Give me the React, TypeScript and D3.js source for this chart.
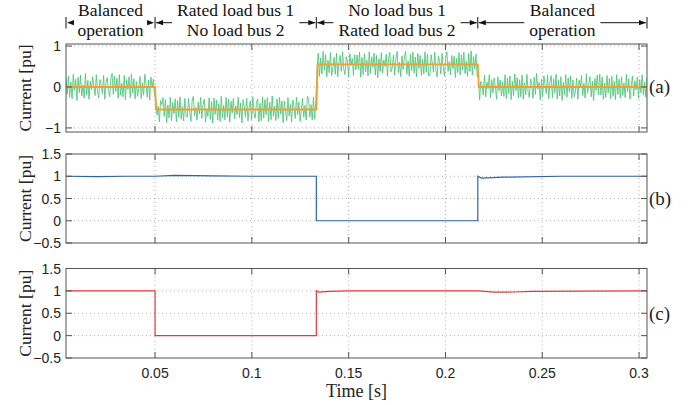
import React, { useRef, useEffect } from 'react';
import * as d3 from 'd3';

// time axis ticks and the operating stage boundaries [s]
const xTicks = [0.05, 0.1, 0.15, 0.2, 0.25, 0.3];
const stageEdges = [0.004, 0.05, 0.1333, 0.2167, 0.3041];
const stageLabels = [
  ['Balanced', 'operation'],
  ['Rated load bus 1', 'No load bus 2'],
  ['No load bus 1', 'Rated load bus 2'],
  ['Balanced', 'operation'],
];

// (a) reference current (orange)
const refT = [0.004, 0.05, 0.0505, 0.1333, 0.134, 0.2167, 0.2172, 0.3041];
const refV = [0, 0, -0.55, -0.55, 0.55, 0.55, 0, 0];

const stageLevels = [0, -0.55, 0.55, 0];
const ripple = [
  0.22, -0.18, 0.27, -0.25, 0.12, -0.29, 0.31, -0.08, 0.19, -0.33, 0.24, -0.14, 0.29, -0.22, 0.05, -0.27, 0.33, -0.19, 0.16, -0.3,
  0.14, -0.06, 0.25, 0.02, -0.21, 0.3, -0.12, -0.27, 0.18, 0.04, -0.16, 0.28, -0.3, 0.11, 0.23, -0.09, -0.24, 0.2, 0.33, -0.18,
  0.26, -0.11, 0.21, -0.28, 0.3, -0.2, 0.09, -0.24, 0.28, -0.31, 0.18, -0.06, 0.25, -0.26, 0.32, -0.15, 0.2, -0.29, 0.13, -0.23,
  -0.03, 0.26, -0.28, 0.1, -0.2, 0.31, 0.06, -0.25, 0.17, -0.32, 0.24, -0.01, 0.19, -0.23, 0.29, -0.14, 0.08, -0.3, 0.22, 0.12,
  0.29, -0.17, 0.24, -0.32, 0.11, -0.21, 0.3, -0.27, 0.17, -0.1, 0.26, -0.3, 0.22, -0.19, 0.31, -0.24, 0.07, -0.28, 0.27, -0.16,
  -0.19, 0.27, -0.07, -0.29, 0.21, 0.32, -0.15, 0.05, -0.26, 0.18, -0.11, 0.3, -0.22, 0.13, 0.25, -0.31, 0.02, -0.17, 0.28, -0.24,
  0.19, -0.33, 0.28, -0.12, 0.23, -0.26, 0.14, -0.29, 0.32, -0.2, 0.1, -0.25, 0.3, -0.18, 0.25, -0.31, 0.2, -0.08, 0.27, -0.23,
  0.09, -0.12, 0.3, -0.2, 0.16, -0.33, 0.24, 0.07, -0.18, 0.27, -0.28, 0.03, 0.21, -0.25, 0.31, -0.1, -0.21, 0.15, 0.26, -0.3,
  0.15, -0.28, 0.31, -0.21, 0.24, -0.13, 0.29, -0.3, 0.18, -0.25, 0.33, -0.16, 0.08, -0.27, 0.26, -0.22, 0.3, -0.11, 0.21, -0.32,
  0.2, -0.04, -0.27, 0.29, -0.16, 0.12, -0.31, 0.23, 0.06, -0.22, 0.3, -0.13, 0.18, -0.29, 0.01, 0.27, -0.19, 0.1, -0.26, 0.32,
  0.27, -0.19, 0.12, -0.26, 0.3, -0.24, 0.2, -0.09, 0.28, -0.29, 0.16, -0.23, 0.32, -0.14, 0.24, -0.3, 0.1, -0.2, 0.29, -0.27,
  -0.08, 0.17, -0.24, 0.28, -0.3, 0.04, 0.22, -0.17, 0.31, -0.11, -0.25, 0.19, 0.08, -0.32, 0.26, -0.02, 0.15, -0.27, 0.24, -0.13,
  0.23, -0.12, 0.3, -0.31, 0.17, -0.25, 0.26, -0.18, 0.11, -0.28, 0.31, -0.22, 0.19, -0.07, 0.28, -0.26, 0.22, -0.33, 0.14, -0.17,
  0.29, -0.21, 0.11, -0.05, 0.25, -0.29, 0.16, 0.3, -0.18, -0.07, 0.23, -0.26, 0.13, 0.32, -0.2, 0.06, -0.3, 0.21, -0.12, 0.18,
  0.32, -0.24, 0.09, -0.29, 0.25, -0.15, 0.3, -0.21, 0.18, -0.3, 0.27, -0.1, 0.22, -0.27, 0.13, -0.23, 0.31, -0.19, 0.26, -0.28,
  -0.27, 0.24, 0.03, -0.19, 0.3, -0.14, -0.31, 0.2, 0.1, -0.23, 0.27, -0.06, -0.28, 0.16, 0.31, -0.17, 0.07, -0.25, 0.22, -0.1,
  0.2, -0.32, 0.15, -0.2, 0.29, -0.25, 0.24, -0.13, 0.3, -0.22, 0.08, -0.29, 0.27, -0.17, 0.33, -0.26, 0.19, -0.11, 0.25, -0.3,
  0.26, -0.32, 0.14, 0.05, -0.2, 0.29, -0.24, 0.12, -0.04, 0.3, -0.27, 0.18, -0.15, 0.22, 0.0, -0.3, 0.25, -0.09, 0.17, -0.22,
  0.12, -0.23, 0.3, -0.28, 0.21, -0.16, 0.27, -0.31, 0.14, -0.21, 0.32, -0.09, 0.23, -0.27, 0.18, -0.24, 0.29, -0.3, 0.1, -0.19,
  0.31, -0.13, -0.26, 0.2, 0.08, -0.28, 0.24, -0.18, 0.33, -0.05, 0.11, -0.31, 0.19, -0.23, 0.27, 0.04, -0.16, 0.3, -0.29, 0.13,
  0.28, -0.26, 0.2, -0.14, 0.31, -0.29, 0.16, -0.22, 0.25, -0.33, 0.11, -0.18, 0.3, -0.25, 0.22, -0.12, 0.27, -0.28, 0.17, -0.24,
  -0.1, 0.22, -0.3, 0.17, -0.02, 0.28, -0.21, 0.09, -0.27, 0.32, -0.15, 0.06, 0.25, -0.24, 0.14, -0.33, 0.21, -0.08, 0.29, -0.19,
  0.31, -0.2, 0.24, -0.3, 0.09, -0.26, 0.28, -0.15, 0.21, -0.29, 0.26, -0.23, 0.14, -0.31, 0.3, -0.18, 0.19, -0.27, 0.25, -0.21,
  0.1, -0.26, 0.31, -0.12, 0.2, -0.3, 0.03, 0.27, -0.22, 0.15, -0.07, 0.24, -0.28, 0.18, -0.14, 0.3, -0.2, 0.12, -0.25, 0.23,
];

// (b) bus 1 current (blue)
const blueT = [0.004, 0.02, 0.035, 0.05, 0.06, 0.08, 0.1, 0.1333, 0.1333, 0.2167, 0.2167, 0.2185, 0.23, 0.26, 0.3041];
const blueV = [1.0, 0.99, 1.0, 1.0, 1.02, 1.01, 1.0, 1.0, 0, 0, 1.0, 0.96, 0.98, 1.0, 1.0];

// (c) bus 2 current (red)
const redT = [0.004, 0.05, 0.05, 0.1333, 0.1333, 0.1345, 0.14, 0.15, 0.217, 0.225, 0.235, 0.245, 0.3041];
const redV = [1, 1, 0, 0, 1, 0.97, 0.99, 1, 1, 0.97, 0.975, 0.99, 1];

const aTicks = [-1, 0, 1];
const bcTicks = [-0.5, 0, 0.5, 1, 1.5];

const serif = '"Liberation Serif", "Times New Roman", serif';
const sans = '"Liberation Sans", Arial, sans-serif';

const fmt = (d: number) => String(d).replace('-', '\u2212');

export default function App() {
  const svgRef = useRef<SVGSVGElement>(null);

  useEffect(() => {
    if (!svgRef.current) return;
    const svg = d3.select(svgRef.current);
    svg.selectAll('*').remove();

    const x = d3.scaleLinear().domain([0.004, 0.3041]).range([66, 647]);

    const panels = [
      { id: 'a', top: 44, bottom: 132, domain: [-1.1, 1.05], ticks: aTicks, label: '(a)', labelAt: 0 },
      { id: 'b', top: 154, bottom: 243, domain: [-0.5, 1.5], ticks: bcTicks, label: '(b)', labelAt: 0.5 },
      { id: 'c', top: 268.5, bottom: 358, domain: [-0.5, 1.5], ticks: bcTicks, label: '(c)', labelAt: 0.5 },
    ];

    // green trace samples, evenly spaced in time
    const dt = (stageEdges[stageEdges.length - 1] - stageEdges[0]) / (ripple.length - 1);
    const green = ripple.map((r, i) => {
      const t = stageEdges[0] + i * dt;
      const s = Math.min(3, Math.max(0, d3.bisectRight(stageEdges, t) - 1));
      return { t, v: stageLevels[s] + r };
    });

    panels.forEach((p, pi) => {
      const y = d3.scaleLinear().domain(p.domain).range([p.bottom, p.top]);
      const g = svg.append('g');

      g.append('clipPath').attr('id', 'clip-' + p.id)
        .append('rect')
        .attr('x', x.range()[0]).attr('y', p.top)
        .attr('width', x.range()[1] - x.range()[0])
        .attr('height', p.bottom - p.top);

      // dotted grid
      xTicks.forEach(t => {
        g.append('line')
          .attr('x1', x(t)).attr('x2', x(t))
          .attr('y1', p.top).attr('y2', p.bottom)
          .attr('stroke', '#9a9a9a').attr('stroke-width', 0.8)
          .attr('stroke-dasharray', '1,3');
      });
      p.ticks.forEach(t => {
        if (t === p.domain[0] || t === p.domain[1]) return;
        g.append('line')
          .attr('x1', x.range()[0]).attr('x2', x.range()[1])
          .attr('y1', y(t)).attr('y2', y(t))
          .attr('stroke', '#9a9a9a').attr('stroke-width', 0.8)
          .attr('stroke-dasharray', '1,3');
      });

      const data = g.append('g').attr('clip-path', `url(#clip-${p.id})`);
      const line = d3.line<{ t: number; v: number }>()
        .x(d => x(d.t))
        .y(d => y(d.v));

      if (p.id === 'a') {
        data.append('path')
          .datum(green)
          .attr('fill', 'none')
          .attr('stroke', '#4cc477')
          .attr('stroke-opacity', 0.85)
          .attr('stroke-width', 1.0)
          .attr('d', line);
        data.append('path')
          .datum(refT.map((t, i) => ({ t, v: refV[i] })))
          .attr('fill', 'none')
          .attr('stroke', '#f0a030')
          .attr('stroke-width', 1.8)
          .attr('d', line);
      } else if (p.id === 'b') {
        data.append('path')
          .datum(blueT.map((t, i) => ({ t, v: blueV[i] })))
          .attr('fill', 'none')
          .attr('stroke', '#2e62b2')
          .attr('stroke-width', 1.2)
          .attr('d', line);
      } else {
        data.append('path')
          .datum(redT.map((t, i) => ({ t, v: redV[i] })))
          .attr('fill', 'none')
          .attr('stroke', '#e8383c')
          .attr('stroke-width', 1.2)
          .attr('d', line);
      }

      // box
      g.append('rect')
        .attr('x', x.range()[0]).attr('y', p.top)
        .attr('width', x.range()[1] - x.range()[0])
        .attr('height', p.bottom - p.top)
        .attr('fill', 'none')
        .attr('stroke', '#555').attr('stroke-width', 1);

      // inward ticks on all sides
      const tl = 6;
      xTicks.forEach(t => {
        g.append('line').attr('x1', x(t)).attr('x2', x(t))
          .attr('y1', p.bottom).attr('y2', p.bottom - tl).attr('stroke', '#555');
        g.append('line').attr('x1', x(t)).attr('x2', x(t))
          .attr('y1', p.top).attr('y2', p.top + tl).attr('stroke', '#555');
      });
      p.ticks.forEach(t => {
        g.append('line').attr('x1', x.range()[0]).attr('x2', x.range()[0] + tl)
          .attr('y1', y(t)).attr('y2', y(t)).attr('stroke', '#555');
        g.append('line').attr('x1', x.range()[1]).attr('x2', x.range()[1] - tl)
          .attr('y1', y(t)).attr('y2', y(t)).attr('stroke', '#555');
        g.append('text')
          .attr('x', 61).attr('y', y(t)).attr('dy', '0.36em')
          .attr('text-anchor', 'end')
          .style('font-family', sans).style('font-size', '14px')
          .attr('fill', '#222')
          .text(fmt(t));
      });

      // y label
      g.append('text')
        .attr('transform', `translate(31, ${(p.top + p.bottom) / 2}) rotate(-90)`)
        .attr('text-anchor', 'middle')
        .style('font-family', serif).style('font-size', '17.5px')
        .attr('fill', '#222')
        .text('Current [pu]');

      // panel tag
      g.append('text')
        .attr('x', 649).attr('y', y(p.labelAt)).attr('dy', '0.33em')
        .style('font-family', serif).style('font-size', '19px')
        .attr('fill', '#222')
        .text(p.label);

      if (pi === panels.length - 1) {
        xTicks.forEach(t => {
          g.append('text')
            .attr('x', x(t)).attr('y', 378)
            .attr('text-anchor', 'middle')
            .style('font-family', sans).style('font-size', '14px')
            .attr('fill', '#222')
            .text(fmt(t));
        });
        g.append('text')
          .attr('x', (x.range()[0] + x.range()[1]) / 2).attr('y', 397)
          .attr('text-anchor', 'middle')
          .style('font-family', serif).style('font-size', '18px')
          .attr('fill', '#222')
          .text('Time [s]');
      }
    });

    // stage annotations with dimension arrows
    const ann = svg.append('g');
    const ay = 22.7;
    const head = (tip: number, dir: number) => {
      ann.append('path')
        .attr('d', `M${tip},${ay} L${tip - dir * 7},${ay - 2.6} L${tip - dir * 7},${ay + 2.6} Z`)
        .attr('fill', '#111');
    };
    stageEdges.forEach(t => {
      ann.append('line')
        .attr('x1', x(t)).attr('x2', x(t))
        .attr('y1', 17).attr('y2', 28.5)
        .attr('stroke', '#111').attr('stroke-width', 1);
    });
    stageLabels.forEach((lines, i) => {
      const a = x(stageEdges[i]);
      const b = x(stageEdges[i + 1]);
      const c = (a + b) / 2;
      let w = 0;
      lines.forEach((s, li) => {
        const tx = ann.append('text')
          .attr('x', c).attr('y', li === 0 ? 16 : 35.5)
          .attr('text-anchor', 'middle')
          .style('font-family', serif).style('font-size', '17.5px')
          .attr('fill', '#111')
          .text(s);
        const node = tx.node() as SVGTextElement;
        w = Math.max(w, node.getComputedTextLength());
      });
      const tl = c - w / 2 - 5;
      const tr = c + w / 2 + 5;
      if (tl - a > 8) {
        ann.append('line').attr('x1', a + 1).attr('x2', tl)
          .attr('y1', ay).attr('y2', ay).attr('stroke', '#111').attr('stroke-width', 1);
      }
      if (b - tr > 8) {
        ann.append('line').attr('x1', tr).attr('x2', b - 1)
          .attr('y1', ay).attr('y2', ay).attr('stroke', '#111').attr('stroke-width', 1);
      }
      head(a + 1, -1);
      head(b - 1, 1);
    });
  }, []);

  return (
    <div>
      <svg
        ref={svgRef}
        width={692}
        height={405}
        style={{ position: 'absolute', left: 0, top: 0, background: '#fff' }}
      />
    </div>
  );
}
